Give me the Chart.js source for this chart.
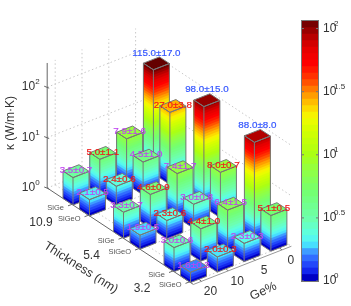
<!DOCTYPE html>
<html>
<head>
<meta charset="utf-8">
<script src="https://cdn.jsdelivr.net/npm/chart.js@4"></script>
<style>
    html, body { margin: 0; padding: 0; background: #fff; overflow: hidden; }
    canvas { position: absolute; top: 0; }
    #barsChart { left: 0; }
    #colorbarChart { left: 296px; }
</style>
</head>
<body>
<canvas id="barsChart" width="296" height="306"></canvas>
<canvas id="colorbarChart" width="55" height="306"></canvas>
<script>
const gePercent = [20, 10, 5, 0];
const thicknessLabels = ["10.9", "5.4", "3.2"];
const materials = ["SiGe", "SiGeO"];

// una lista por fila, en el orden de gePercent
const kappaSiGe109 = [3.5, 5.0, 7.9, 115.0];
const errorSiGe109 = [0.7, 1.1, 1.6, 17.0];
const kappaSiGeO109 = [2.1, 2.4, 4.5, 27.0];
const errorSiGeO109 = [0.5, 0.6, 1.0, 3.8];
const kappaSiGe54 = [3.3, 4.6, 7.4, 98.0];
const errorSiGe54 = [0.7, 0.9, 1.7, 15.0];
const kappaSiGeO54 = [1.9, 2.3, 3.0, 8.0];
const errorSiGeO54 = [0.5, 0.6, 0.8, 0.7];
const kappaSiGe32 = [3.0, 4.4, 6.4, 88.0];
const errorSiGe32 = [0.6, 1.0, 1.5, 8.0];
const kappaSiGeO32 = [1.6, 2.0, 2.3, 5.1];
const errorSiGeO32 = [0.3, 0.3, 0.3, 0.5];

const zTicks = [2, 1, 0];
const colorbarTicks = ["2", "1.5", "1", "0.5", "0"];

// colormap: log10(kappa) -> color
const cmapStops = [0, 0.03, 0.08, 0.15, 0.22, 0.28, 0.35, 0.5, 0.7, 0.9, 1.0, 1.2, 1.3, 1.38, 1.48, 1.6, 1.72, 1.85, 1.95, 2.06];
const cmapColors = [
    [0, 0, 140], [0, 0, 205], [20, 40, 240], [40, 85, 255], [60, 140, 255], [70, 220, 255],
    [90, 255, 235], [110, 255, 170], [115, 255, 115], [150, 255, 60], [170, 255, 20], [215, 255, 0],
    [245, 250, 0], [255, 210, 0], [255, 150, 0], [255, 60, 0], [255, 0, 0], [225, 0, 0], [175, 0, 0], [100, 0, 0]
];
const CMAP_MAX = 2.06;
const CMAP_LEVELS = 40;

const rows = [
    [kappaSiGe109, errorSiGe109], [kappaSiGeO109, errorSiGeO109],
    [kappaSiGe54, errorSiGe54], [kappaSiGeO54, errorSiGeO54],
    [kappaSiGe32, errorSiGe32], [kappaSiGeO32, errorSiGeO32]
];

// proyeccion oblicua del piso al plano de la figura
const ORIGIN_X = 73, ORIGIN_Y = 205;
const SLOPE_U = 0.66, SLOPE_G = -0.39;
const GROUP_STEP = 50.5, SUB_STEP = 16.5, COL_STEP = 26.8;
const BAR_DEPTH = 10, BAR_WIDTH = 16;
const U_LEFT = -25.8, U_FRONT = 120.4, G_END = 98, G_TICK0 = 8;
const Z_TOP = 2.48;

const planeX = (u, g) => ORIGIN_X + u + g;
const planeY = (u, g) => ORIGIN_Y + SLOPE_U * u + SLOPE_G * g;
const rowU = i => Math.floor(i / 2) * GROUP_STEP + (i % 2) * SUB_STEP;
const colG = j => j * COL_STEP;

const colorAt = logValue => {
    let k = 0;
    while (k < cmapStops.length - 2 && logValue > cmapStops[k + 1]) k++;
    const t = Math.min(1, Math.max(0, (logValue - cmapStops[k]) / (cmapStops[k + 1] - cmapStops[k])));
    const c = cmapColors[k].map((v, n) => Math.round(v + (cmapColors[k + 1][n] - v) * t));
    return `rgb(${c[0]},${c[1]},${c[2]})`;
};
const levelColor = k => colorAt((k + 0.5) * CMAP_MAX / CMAP_LEVELS);

const labelColor = (row, col) => {
    if (col === 3) return row % 2 === 0 ? "#3355ff" : "#f01818";
    return col === 1 ? "#f01818" : "#c044f0";
};

// Ordenados de atras hacia adelante para pintar
const barPoints = [];
rows.forEach((row, i) => {
    for (let j = gePercent.length - 1; j >= 0; j--) {
        barPoints.push({ x: planeX(rowU(i), colG(j)), y: planeY(rowU(i), colG(j)), kappa: row[0][j], error: row[1][j], row: i, col: j });
    }
});

const polygon = (ctx, points) => {
    ctx.beginPath();
    points.forEach((p, n) => n ? ctx.lineTo(p[0], p[1]) : ctx.moveTo(p[0], p[1]));
    ctx.closePath();
};

const barsPlugin = {
    id: "bars3d",
    beforeDatasetsDraw(chart) {
        const { ctx, scales } = chart;
        const P = (u, g, z) => [
            scales.x.getPixelForValue(planeX(u, g)),
            scales.y.getPixelForValue(planeY(u, g)) + scales.yKappa.getPixelForValue(Math.pow(10, z)) - scales.yKappa.getPixelForValue(1)
        ];
        const line = (a, b) => {
            ctx.beginPath();
            ctx.moveTo(a[0], a[1]);
            ctx.lineTo(b[0], b[1]);
            ctx.stroke();
        };
        const text = (str, x, y, font, color, align, angle) => {
            ctx.save();
            ctx.translate(x, y);
            if (angle) ctx.rotate(angle);
            ctx.font = font;
            ctx.fillStyle = color;
            ctx.textAlign = align || "center";
            ctx.textBaseline = "middle";
            ctx.fillText(str, 0, 0);
            ctx.restore();
        };

        // rejilla punteada de paredes y piso
        ctx.save();
        ctx.strokeStyle = "#c8c8c8";
        ctx.lineWidth = 1;
        ctx.setLineDash([1.5, 2.5]);
        gePercent.forEach((ge, j) => {
            const g = G_TICK0 + colG(j);
            line(P(U_LEFT, g, 0), P(U_LEFT, g, Z_TOP));
            line(P(U_LEFT, g, 0), P(U_FRONT, g, 0));
        });
        rows.forEach((row, i) => line(P(rowU(i), 0, 0), P(rowU(i), G_END, 0)));
        zTicks.forEach(z => {
            line(P(U_LEFT, 0, z), P(U_LEFT, G_END, z));
            line(P(U_LEFT, G_END, z), P(U_FRONT, G_END, z));
        });
        ctx.restore();

        // ejes
        ctx.strokeStyle = "#666";
        ctx.lineWidth = 1;
        line(P(U_LEFT, 0, 0), P(U_LEFT, 0, Z_TOP));
        line(P(U_LEFT, 0, 0), P(U_FRONT, 0, 0));
        ctx.strokeStyle = "#999";
        line(P(U_FRONT, 0, 0), P(U_FRONT, G_END, 0));
        ctx.strokeStyle = "#666";

        zTicks.forEach(z => {
            const p = P(U_LEFT, 0, z);
            line([p[0] - 3, p[1] - 1], [p[0] + 2, p[1] + 1]);
            text("10", p[0] - 12, p[1], "12px 'Liberation Sans'", "#333", "right");
            text(String(z), p[0] - 12, p[1] - 5, "8px 'Liberation Sans'", "#333", "left");
        });

        rows.forEach((row, i) => {
            const p = P(rowU(i) - 1, 0, 0);
            line(p, [p[0] - 4, p[1] + 1.5]);
            text(materials[i % 2], p[0] - 8, p[1] + 3.5, "7.5px 'Liberation Sans'", "#555", "right");
        });
        thicknessLabels.forEach((label, n) => {
            const p = P(n * GROUP_STEP + 8, 0, 0);
            text(label, p[0] - 40, p[1] + 12, "12px 'Liberation Sans'", "#333");
        });
        gePercent.forEach((ge, j) => {
            const p = P(U_FRONT, G_TICK0 + colG(j), 0);
            line(p, [p[0] - 2, p[1] - 2]);
            text(String(ge), p[0] + 9, p[1] + 10.5, "12px 'Liberation Sans'", "#333");
        });

        const leftMid = P((U_LEFT + U_FRONT) / 2, 0, 0);
        text("Thickness (nm)", leftMid[0] - 39.5, leftMid[1] + 31.5, "12.5px 'Liberation Sans'", "#333", "center", Math.atan(SLOPE_U) * 0.97);
        const frontMid = P(U_FRONT, G_END / 2, 0);
        text("Ge%", frontMid[0] + 21, frontMid[1] + 26, "12.5px 'Liberation Sans'", "#333", "center", -0.42);
        text("κ (W/m·K)", 11, 123, "12px 'Liberation Sans'", "#333", "center", -Math.PI / 2);

        // barras, cara por cara y por niveles del colormap
        barPoints.forEach(b => {
            const u = rowU(b.row), g = colG(b.col), top = Math.log10(b.kappa);
            const uBack = u - BAR_DEPTH, gBack = g + BAR_WIDTH;
            for (let k = 0; k < CMAP_LEVELS; k++) {
                const low = k * CMAP_MAX / CMAP_LEVELS;
                if (low >= top) break;
                ctx.fillStyle = levelColor(k);
                polygon(ctx, [P(uBack, g, low), P(u, g, low), P(u, g, top), P(uBack, g, top)]);
                ctx.fill();
                polygon(ctx, [P(u, g, low), P(u, gBack, low), P(u, gBack, top), P(u, g, top)]);
                ctx.fill();
            }
            ctx.fillStyle = colorAt(top);
            polygon(ctx, [P(u, g, top), P(u, gBack, top), P(uBack, gBack, top), P(uBack, g, top)]);
            ctx.fill();
            ctx.strokeStyle = "#777";
            ctx.stroke();
            polygon(ctx, [P(uBack, g, 0), P(u, g, 0), P(u, gBack, 0), P(u, gBack, top), P(u, g, top), P(uBack, g, top)]);
            ctx.stroke();
            line(P(u, g, 0), P(u, g, top));
        });
    },
    afterDatasetsDraw(chart) {
        const { ctx, scales } = chart;
        // etiquetas encima de todas las barras
        barPoints.forEach(b => {
            const x = scales.x.getPixelForValue(b.x + (BAR_WIDTH - BAR_DEPTH) / 2);
            const y = scales.y.getPixelForValue(b.y - 6.4) + scales.yKappa.getPixelForValue(b.kappa) - scales.yKappa.getPixelForValue(1);
            const raised = b.col === 3 && b.row % 2 === 0;
            const label = `${b.kappa.toFixed(1)}±${b.error.toFixed(1)}`;
            ctx.font = "9.8px 'Liberation Sans'";
            ctx.fillStyle = labelColor(b.row, b.col);
            ctx.strokeStyle = labelColor(b.row, b.col);
            ctx.lineWidth = 0.2;
            ctx.textAlign = "center";
            ctx.textBaseline = "middle";
            ctx.fillText(label, x, raised ? y - 10.5 : y - 1);
            ctx.strokeText(label, x, raised ? y - 10.5 : y - 1);
        });
    }
};

new Chart(document.getElementById("barsChart"), {
    type: "scatter",
    data: { datasets: [{ label: "κ", data: barPoints, pointRadius: 0 }] },
    options: {
        responsive: false,
        animation: false,
        layout: { padding: 0 },
        plugins: { legend: { display: false }, tooltip: { enabled: false } },
        scales: {
            x: { type: "linear", min: 0, max: 296, display: false },
            y: { type: "linear", min: 0, max: 306, reverse: true, display: false },
            yKappa: { type: "logarithmic", axis: "y", min: 1, max: Math.pow(10, 306 / 50.4), display: false }
        }
    },
    plugins: [barsPlugin]
});

// Barra de color con su propio eje logaritmico
const colorbarPlugin = {
    id: "colorbarFrame",
    afterDatasetsDraw(chart) {
        const { ctx, chartArea, scales } = chart;
        ctx.save();
        ctx.strokeStyle = "#777";
        ctx.lineWidth = 1;
        ctx.strokeRect(chartArea.left - 0.5, chartArea.top - 0.5, chartArea.right - chartArea.left + 1, chartArea.bottom - chartArea.top + 1);
        colorbarTicks.forEach(exp => {
            const y = scales.y.getPixelForValue(Math.pow(10, Number(exp)));
            ctx.beginPath();
            ctx.moveTo(chartArea.left, y);
            ctx.lineTo(chartArea.left + 2, y);
            ctx.moveTo(chartArea.right - 2, y);
            ctx.lineTo(chartArea.right, y);
            ctx.stroke();
            ctx.font = "8px 'Liberation Sans'";
            ctx.fillStyle = "#333";
            ctx.textAlign = "left";
            ctx.textBaseline = "middle";
            ctx.fillText(exp, chartArea.right + 16, y - 5);
        });
        ctx.restore();
    }
};

const colorbarDatasets = [];
for (let k = 0; k < CMAP_LEVELS; k++) {
    colorbarDatasets.push({
        data: [[1, Math.pow(10, (k + 1) * CMAP_MAX / CMAP_LEVELS)]],
        backgroundColor: levelColor(k),
        grouped: false,
        barPercentage: 1,
        categoryPercentage: 1
    });
}

new Chart(document.getElementById("colorbarChart"), {
    type: "bar",
    data: { labels: [""], datasets: colorbarDatasets },
    options: {
        responsive: false,
        animation: false,
        layout: { padding: { left: 6, top: 21, bottom: 25 } },
        plugins: { legend: { display: false }, tooltip: { enabled: false } },
        scales: {
            x: { display: false },
            y: {
                type: "logarithmic",
                position: "right",
                min: 1,
                max: Math.pow(10, CMAP_MAX),
                grid: { display: false, drawTicks: false },
                border: { display: false },
                afterFit: scale => { scale.width = 33; },
                afterBuildTicks: scale => { scale.ticks = colorbarTicks.map(exp => ({ value: Math.pow(10, Number(exp)) })); },
                ticks: {
                    autoSkip: false,
                    maxRotation: 0,
                    padding: 5,
                    color: "#333",
                    font: { family: "'Liberation Sans'", size: 12 },
                    callback: () => "10"
                }
            }
        }
    },
    plugins: [colorbarPlugin]
});
</script>
</body>
</html>
